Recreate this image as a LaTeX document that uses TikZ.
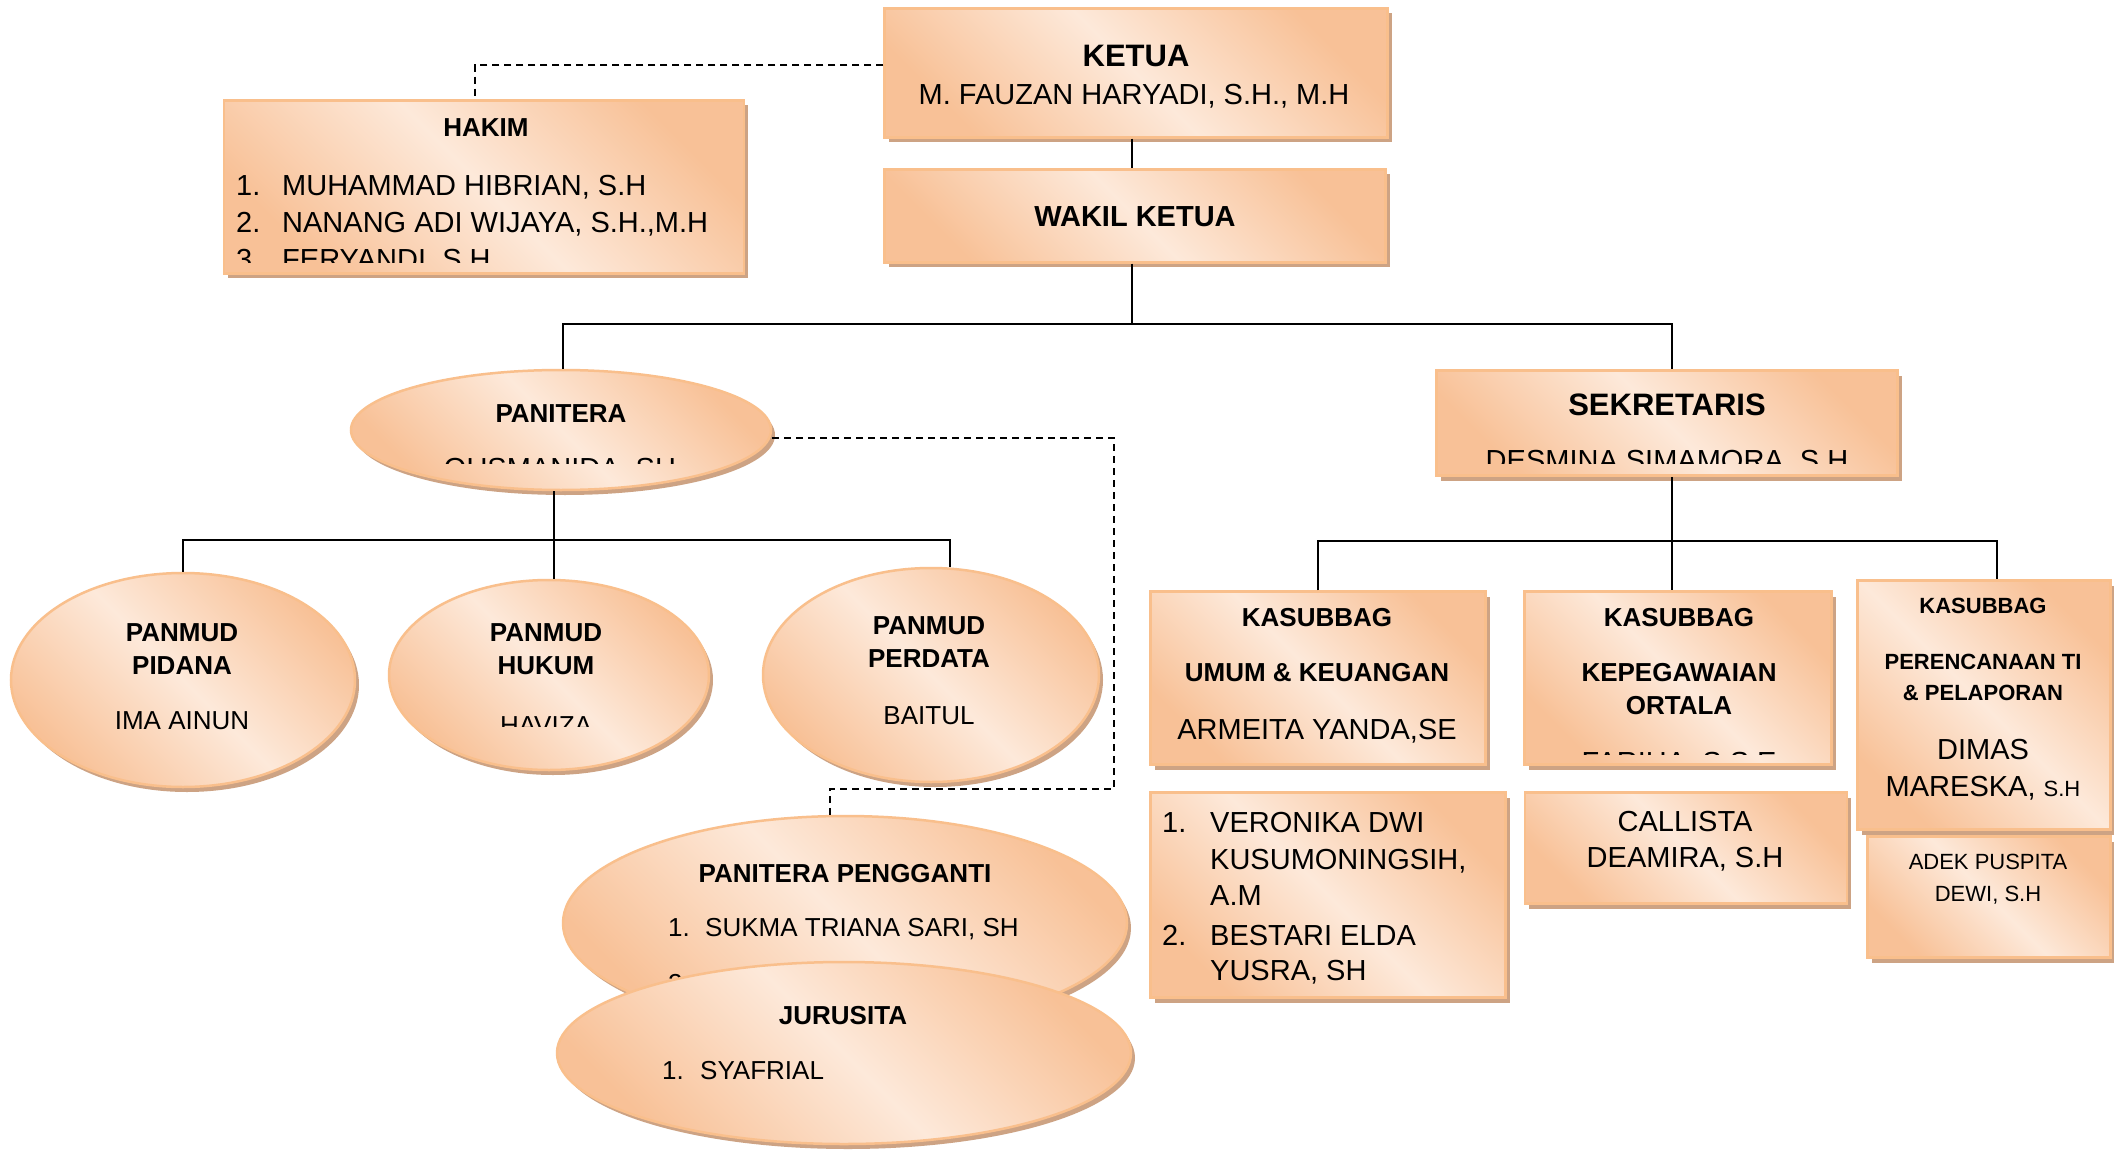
\documentclass[tikz,border=0pt]{standalone}
\usepackage{fontspec}
\setmainfont{Liberation Sans}
\usetikzlibrary{shapes.geometric,shadows}
\definecolor{jingga}{HTML}{F8C197}
\definecolor{muda}{HTML}{FDE9DA}
\definecolor{tepi}{HTML}{F9BF8C}
\definecolor{bayang}{HTML}{CDA384}
\tikzset{
  isi/.style={draw=tepi, line width=2.5pt, inner sep=0pt,
    top color=jingga, bottom color=jingga, middle color=muda, shading angle=-45,
    drop shadow={shadow xshift=4pt, shadow yshift=-5pt, fill=bayang, opacity=1}},
  kotak/.style={isi, rectangle},
  lonjong/.style={isi, ellipse},
  garis/.style={draw=black, line width=2pt},
  putus/.style={draw=black, line width=2pt, dash pattern=on 7pt off 5pt},
  tx/.style={anchor=base, inner sep=0pt, text=black},
  txl/.style={anchor=base west, inner sep=0pt, text=black},
  jA/.style={font=\fontsize{31}{37}\selectfont\bfseries},
  jB/.style={font=\fontsize{29}{35}\selectfont\bfseries},
  jC/.style={font=\fontsize{26}{31}\selectfont\bfseries},
  jD/.style={font=\fontsize{22}{26}\selectfont\bfseries},
  iA/.style={font=\fontsize{29}{35}\selectfont},
  iB/.style={font=\fontsize{26}{31}\selectfont},
  iC/.style={font=\fontsize{22}{26}\selectfont},
}

\begin{document}
\begin{tikzpicture}[x=1pt, y=-1pt]
  \useasboundingbox[fill=white] (0,0) rectangle (2114,1150);

  % pimpinan
  \node[kotak, minimum width=503, minimum height=129] (ketua) at (1136,73) {};
  \node[tx, jA] (ketua1) at (1136,67) {KETUA};
  \node[tx, iA] (ketua2) at (1134,105) {M. FAUZAN HARYADI, S.H., M.H};

  \node[kotak, minimum width=501, minimum height=93] (wakil) at (1135,216) {};
  \node[tx, jB] (wakil1) at (1135,227) {WAKIL KETUA};

  \node[kotak, minimum width=520, minimum height=173] (hakim) at (484,187) {};
  \node[tx, jC] (hakim1) at (486,137) {HAKIM};
  \node[txl, iA] (hakim2) at (236,196) {1.};
  \node[txl, iA] (hakim3) at (282,196) {MUHAMMAD HIBRIAN, S.H};
  \node[txl, iA] (hakim4) at (236,233) {2.};
  \node[txl, iA] (hakim5) at (282,233) {NANANG ADI WIJAYA, S.H.,M.H};
  \begin{scope}
    \clip (224,100) rectangle (744,263);
    \node[txl, iA] (hakim6) at (236,270) {3.};
    \node[txl, iA] (hakim7) at (282,270) {FERYANDI, S.H};
  \end{scope}

  % kepaniteraan
  \node[lonjong, minimum width=420, minimum height=120] (panitera) at (561,430) {};
  \node[tx, jC] (panitera1) at (561,422) {PANITERA};
  \begin{scope}
    \clip (350,370) rectangle (772,463);
    \node[tx, iA] (panitera2) at (560,478) {QUSMANIDA, SH};
  \end{scope}

  \node[lonjong, minimum width=344, minimum height=214] (pidana) at (183,680) {};
  \node[tx, jC] (pidana1) at (182,641) {PANMUD};
  \node[tx, jC] (pidana2) at (182,674) {PIDANA};
  \node[tx, iB] (pidana3) at (182,729) {IMA AINUN};

  \node[lonjong, minimum width=320, minimum height=190] (hukum) at (549,675) {};
  \node[tx, jC] (hukum1) at (546,641) {PANMUD};
  \node[tx, jC] (hukum2) at (546,674) {HUKUM};
  \begin{scope}
    \clip (390,580) rectangle (710,726);
    \node[tx, iB] (hukum3) at (546,734) {HAVIZA};
  \end{scope}

  \node[lonjong, minimum width=336, minimum height=214] (perdata) at (931,675) {};
  \node[tx, jC] (perdata1) at (929,634) {PANMUD};
  \node[tx, jC] (perdata2) at (929,667) {PERDATA};
  \node[tx, iB] (perdata3) at (929,724) {BAITUL};

  \node[lonjong, minimum width=564, minimum height=214] (pengganti) at (845,923) {};
  \node[tx, jC] (pengganti1) at (845,882) {PANITERA PENGGANTI};
  \node[txl, iB] (pengganti2) at (668,936) {1.};
  \node[txl, iB] (pengganti3) at (705,936) {SUKMA TRIANA SARI, SH};
  \node[txl, iB] (pengganti4) at (668,992) {2.};

  \node[lonjong, minimum width=574, minimum height=182] (jurusita) at (844,1053) {};
  \node[tx, jC] (jurusita1) at (843,1024) {JURUSITA};
  \node[txl, iB] (jurusita2) at (662,1079) {1.};
  \node[txl, iB] (jurusita3) at (700,1079) {SYAFRIAL};

  % kesekretariatan
  \node[kotak, minimum width=461, minimum height=105] (sekretaris) at (1667,423) {};
  \node[tx, jA] (sekretaris1) at (1667,415) {SEKRETARIS};
  \begin{scope}
    \clip (1437,370) rectangle (1898,463);
    \node[tx, iA] (sekretaris2) at (1667,470) {DESMINA SIMAMORA, S.H};
  \end{scope}

  \node[kotak, minimum width=335, minimum height=173] (umum) at (1318,678) {};
  \node[tx, jC] (umum1) at (1317,626) {KASUBBAG};
  \node[tx, jC] (umum2) at (1317,681) {UMUM \& KEUANGAN};
  \node[tx, iA] (umum3) at (1317,739) {ARMEITA YANDA,SE};

  \node[kotak, minimum width=307, minimum height=173] (kepeg) at (1678,678) {};
  \node[tx, jC] (kepeg1) at (1679,626) {KASUBBAG};
  \node[tx, jC] (kepeg2) at (1679,681) {KEPEGAWAIAN};
  \node[tx, jC] (kepeg3) at (1679,714) {ORTALA};
  \begin{scope}
    \clip (1525,592) rectangle (1832,754);
    \node[tx, iA] (kepeg4) at (1679,772) {FARIHA, S.S.E};
  \end{scope}

  \node[kotak, minimum width=253, minimum height=249] (renc) at (1984,705) {};
  \node[tx, jD] (renc1) at (1983,613) {KASUBBAG};
  \node[tx, jD] (renc2) at (1983,669) {PERENCANAAN TI};
  \node[tx, jD] (renc3) at (1983,700) {\& PELAPORAN};
  \node[tx, iA] (renc4) at (1983,759) {DIMAS};
  \node[tx, iA] (renc5) at (1983,796) {MARESKA, {\fontsize{22}{26}\selectfont S.H}};

  \node[kotak, minimum width=355, minimum height=205] (subumum) at (1328,895) {};
  \node[txl, iA] (subumum1) at (1162,832) {1.};
  \node[txl, iA] (subumum2) at (1210,832) {VERONIKA DWI};
  \node[txl, iA] (subumum3) at (1210,869) {KUSUMONINGSIH,};
  \node[txl, iA] (subumum4) at (1210,905) {A.M};
  \node[txl, iA] (subumum5) at (1162,945) {2.};
  \node[txl, iA] (subumum6) at (1210,945) {BESTARI ELDA};
  \node[txl, iA] (subumum7) at (1210,980) {YUSRA, SH};

  \node[kotak, minimum width=322, minimum height=111] (subkepeg) at (1686,848) {};
  \node[tx, iA] (subkepeg1) at (1685,831) {CALLISTA};
  \node[tx, iA] (subkepeg2) at (1685,867) {DEAMIRA, S.H};

  \node[kotak, minimum width=243, minimum height=121] (subrenc) at (1989,897) {};
  \node[tx, iC] (subrenc1) at (1988,869) {ADEK PUSPITA};
  \node[tx, iC] (subrenc2) at (1988,901) {DEWI, S.H};

  % garis hubung
  \coordinate (c1) at (1132,324);
  \coordinate (c2) at (554,540);
  \coordinate (c3) at (1672,541);
  \coordinate (d1) at (1114,789);
  \draw[garis] (c1 |- ketua.south) -- (c1 |- wakil.north);
  \draw[garis] (c1 |- wakil.south) -- (c1);
  \draw[garis] ([xshift=2pt]panitera.north) |- (c1) -| (c3 |- sekretaris.north);
  \draw[garis] (c2 |- panitera.south) -- (c2 |- hukum.north);
  \draw[garis] (pidana.north) |- (c2) -| (perdata.80);
  \draw[garis] (c3 |- sekretaris.south) -- (c3 |- kepeg.north);
  \draw[garis] (umum.north) |- (c3) -| ([xshift=13pt]renc.north);
  \draw[putus] ([yshift=8pt]ketua.west) -| ([xshift=-9pt]hakim.north);
  \draw[putus] ([yshift=-8pt]panitera.east) -| (d1) -| ([xshift=-15pt]pengganti.north);
\end{tikzpicture}
\end{document}
